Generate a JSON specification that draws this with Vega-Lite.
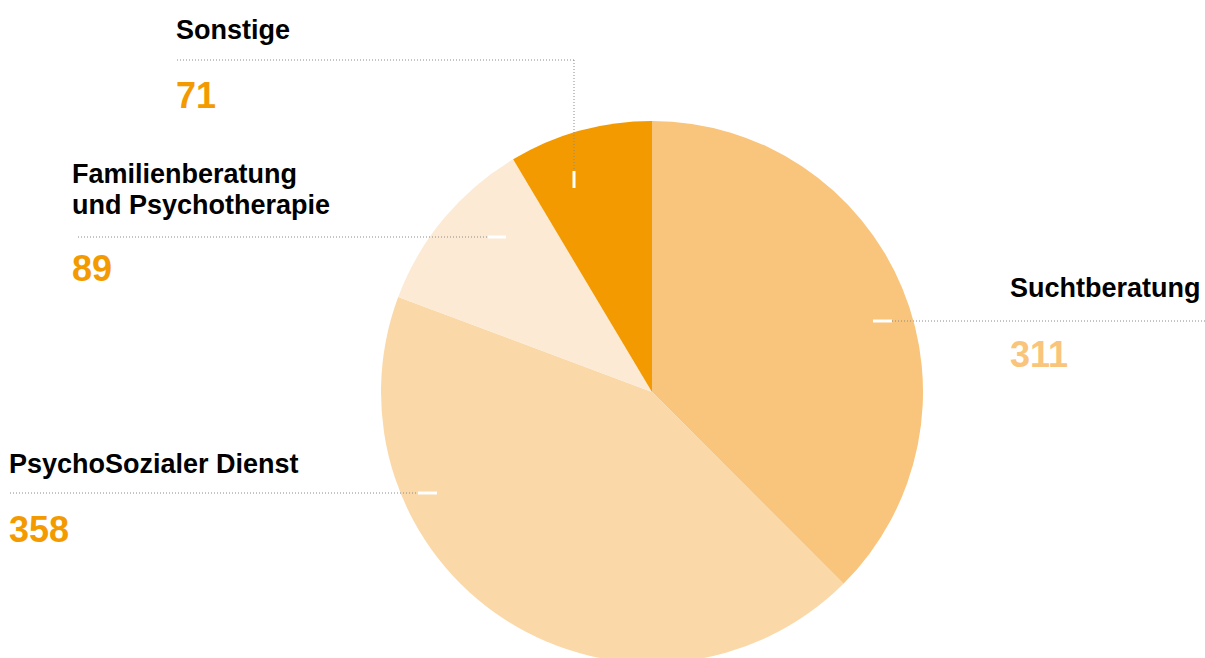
{
  "$schema": "https://vega.github.io/schema/vega-lite/v6.json",
  "width": 1205,
  "height": 658,
  "padding": 0,
  "autosize": {"type": "none"},
  "background": "white",
  "config": {"view": {"stroke": null}, "text": {"font": "Liberation Sans", "fontWeight": "bold"}},
  "datasets": {
    "slices": [
      {"category": "Suchtberatung", "value": 311},
      {"category": "PsychoSozialer Dienst", "value": 358},
      {"category": "Familienberatung und Psychotherapie", "value": 89},
      {"category": "Sonstige", "value": 71}
    ],
    "labels": [
      {"category": "Sonstige", "value": 71, "label": "Sonstige", "lx": 176, "ly": 39, "vy": 108},
      {"category": "Familienberatung und Psychotherapie", "value": 89, "label": "Familienberatung\nund Psychotherapie", "lx": 72, "ly": 183, "vy": 281},
      {"category": "Suchtberatung", "value": 311, "label": "Suchtberatung", "lx": 1010, "ly": 297, "vy": 367},
      {"category": "PsychoSozialer Dienst", "value": 358, "label": "PsychoSozialer Dienst", "lx": 9, "ly": 473, "vy": 542}
    ],
    "leaders": [
      {"category": "Sonstige", "x": 177, "y": 60, "x2": 574, "y2": 60},
      {"category": "Sonstige", "x": 574, "y": 60, "x2": 574, "y2": 171},
      {"category": "Familienberatung und Psychotherapie", "x": 78, "y": 237, "x2": 488, "y2": 237},
      {"category": "Suchtberatung", "x": 892, "y": 321, "x2": 1205, "y2": 321},
      {"category": "PsychoSozialer Dienst", "x": 10, "y": 493, "x2": 418, "y2": 493}
    ],
    "ticks": [
      {"category": "Sonstige", "x": 574, "y": 171, "x2": 574, "y2": 188},
      {"category": "Familienberatung und Psychotherapie", "x": 488, "y": 237, "x2": 506, "y2": 237},
      {"category": "Suchtberatung", "x": 873, "y": 321, "x2": 892, "y2": 321},
      {"category": "PsychoSozialer Dienst", "x": 418, "y": 493, "x2": 437, "y2": 493}
    ]
  },
  "layer": [
    {
      "data": {"name": "slices"},
      "transform": [{"window": [{"op": "row_number", "as": "rank"}]}],
      "mark": {"type": "arc", "outerRadius": 271, "stroke": null},
      "encoding": {
        "x": {"datum": 652, "type": "quantitative", "scale": {"domain": [0, 1205], "nice": false, "zero": false}, "axis": null},
        "y": {"datum": 392, "type": "quantitative", "scale": {"domain": [0, 658], "nice": false, "zero": false, "reverse": true}, "axis": null},
        "theta": {"field": "value", "type": "quantitative", "stack": true},
        "order": {"field": "rank", "type": "quantitative", "sort": "ascending"},
        "color": {
          "field": "category",
          "type": "nominal",
          "scale": {
            "domain": ["Suchtberatung", "PsychoSozialer Dienst", "Familienberatung und Psychotherapie", "Sonstige"],
            "range": ["#F9C47B", "#FAD8A8", "#FCEAD5", "#F39A00"]
          },
          "legend": null
        }
      }
    },
    {
      "data": {"name": "leaders"},
      "mark": {"type": "rule", "color": "#8a8a8a", "strokeWidth": 1, "strokeDash": [1, 2]},
      "encoding": {
        "x": {"field": "x", "type": "quantitative"},
        "y": {"field": "y", "type": "quantitative"},
        "x2": {"field": "x2"},
        "y2": {"field": "y2"}
      }
    },
    {
      "data": {"name": "ticks"},
      "mark": {"type": "rule", "color": "white", "strokeWidth": 3},
      "encoding": {
        "x": {"field": "x", "type": "quantitative"},
        "y": {"field": "y", "type": "quantitative"},
        "x2": {"field": "x2"},
        "y2": {"field": "y2"}
      }
    },
    {
      "data": {"name": "labels"},
      "mark": {"type": "text", "align": "left", "baseline": "alphabetic", "fontSize": 27, "lineHeight": 31, "lineBreak": "\n", "color": "#000000"},
      "encoding": {
        "x": {"field": "lx", "type": "quantitative"},
        "y": {"field": "ly", "type": "quantitative"},
        "text": {"field": "label"}
      }
    },
    {
      "data": {"name": "labels"},
      "mark": {"type": "text", "align": "left", "baseline": "alphabetic", "fontSize": 36},
      "encoding": {
        "x": {"field": "lx", "type": "quantitative"},
        "y": {"field": "vy", "type": "quantitative"},
        "text": {"field": "value", "type": "quantitative"},
        "color": {"condition": {"test": "datum.category === 'Suchtberatung'", "value": "#F9C47B"}, "value": "#F39A00"}
      }
    }
  ]
}
